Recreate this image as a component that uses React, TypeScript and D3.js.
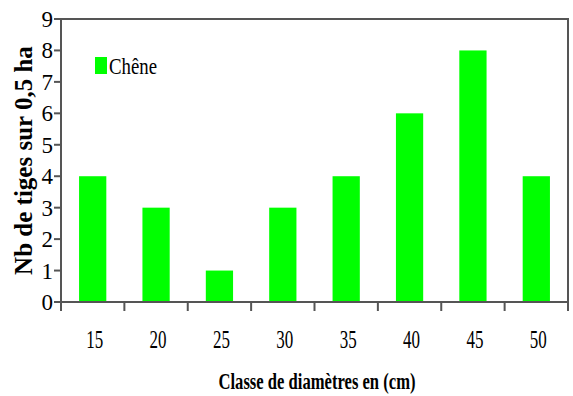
import React from "react";
import * as d3 from "d3";

const categories = ["15", "20", "25", "30", "35", "40", "45", "50"];
const values = [4, 3, 1, 3, 4, 6, 8, 4];
const yTicks = [0, 1, 2, 3, 4, 5, 6, 7, 8, 9];
const seriesName = "Chêne";
const xTitle = "Classe de diamètres en (cm)";
const yTitle = "Nb de tiges sur 0,5 ha";

export default function App() {
  const W = 573, H = 396;
  const left = 61, right = 568, top = 19, bottom = 302;
  const x = d3.scaleBand<string>().domain(categories).range([left, right]).paddingInner(0.57).paddingOuter(0.285);
  const xb = d3.scaleBand<string>().domain(categories).range([left, right]);
  const y = d3.scaleLinear().domain([0, 9]).range([bottom, top]);
  const ff = { fontFamily: "Liberation Serif" };
  const axisColor = "#555";
  return (
    <svg width={W} height={H} style={{ position: "absolute", left: 0, top: 0, background: "#fff" }}>
      <rect x={0} y={0} width={W} height={H} fill="#fff" />
      {categories.map((c, i) => (
        <rect key={c} x={x(c)} y={y(values[i])} width={x.bandwidth()} height={bottom - y(values[i])} fill="#00ff00" />
      ))}
      <path d={`M${left},${top}H${right}V${bottom}`} fill="none" stroke={axisColor} strokeWidth={2} />
      <line x1={left} x2={left} y1={top} y2={bottom + 1} stroke={axisColor} strokeWidth={2} />
      <line x1={left} x2={right} y1={bottom} y2={bottom} stroke={axisColor} strokeWidth={2} />
      {yTicks.map((t) => (
        <g key={t}>
          <line x1={left - 7} x2={left} y1={y(t)} y2={y(t)} stroke={axisColor} strokeWidth={2} />
          <text x={left - 8} y={y(t)} dy="0.35em" textAnchor="end" style={ff} fontSize={23}>{t}</text>
        </g>
      ))}
      {categories.map((c) => (
        <line key={"t" + c} x1={xb(c)} x2={xb(c)} y1={bottom} y2={bottom + 9} stroke={axisColor} strokeWidth={2} />
      ))}
      <line x1={right} x2={right} y1={bottom} y2={bottom + 9} stroke={axisColor} strokeWidth={2} />
      {categories.map((c) => (
        <text key={"l" + c} x={(xb(c) as number) + xb.bandwidth() / 2 + 2} y={348} textAnchor="middle" style={ff} fontSize={25} textLength={17} lengthAdjust="spacingAndGlyphs">{c}</text>
      ))}
      <text x={317} y={389} textAnchor="middle" style={ff} fontSize={24} fontWeight="bold" textLength={197} lengthAdjust="spacingAndGlyphs">{xTitle}</text>
      <text transform={`translate(32,${(top + bottom) / 2}) rotate(-90)`} textAnchor="middle" style={ff} fontSize={25} fontWeight="bold">{yTitle}</text>
      <rect x={95} y={57} width={12} height={17} fill="#00ff00" />
      <text x={109} y={74} style={ff} fontSize={24} textLength={48} lengthAdjust="spacingAndGlyphs">{seriesName}</text>
    </svg>
  );
}
